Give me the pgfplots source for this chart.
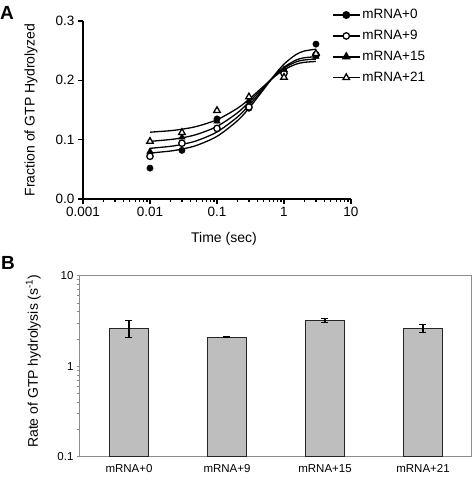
\documentclass[border=0pt]{standalone}
\usepackage{pgfplots}
\pgfplotsset{compat=1.18}
\usepackage{fontspec}
\setmainfont{Liberation Sans}
\definecolor{bargray}{HTML}{BEBEBE}
\definecolor{framegray}{HTML}{8C8C8C}
\begin{document}
\begin{tikzpicture}
\useasboundingbox (0pt,0pt) rectangle (474pt,483pt);
\node[font=\fontsize{19}{19}\selectfont\bfseries, anchor=center] at (7pt,470pt) {A};
\node[font=\fontsize{19}{19}\selectfont\bfseries, anchor=center] at (8pt,220pt) {B};
% ---------------- Panel A ----------------
\begin{axis}[
  at={(83pt,284pt)}, anchor=south west,
  scale only axis, width=268pt, height=178pt,
  xmode=log, xmin=0.001, xmax=10, ymin=0, ymax=0.3,
  axis x line*=bottom, axis y line*=left,
  axis line style={line width=1.5pt, -},
  every tick/.style={black, line width=1.2pt},
  tick align=outside, major tick length=5pt, minor tick length=3pt,
  xtick={0.001,0.01,0.1,1,10}, xticklabels={0.001,0.01,0.1,1,10},
  ytick={0,0.1,0.2,0.3}, yticklabels={0.0,0.1,0.2,0.3},
  minor y tick num=0,
  tick label style={font=\fontsize{13.5}{14}\selectfont},
  /pgf/number format/assume math mode=true,
  xlabel={Time (sec)}, ylabel={Fraction of GTP Hydrolyzed},
  label style={font=\fontsize{14}{15}\selectfont},
  xlabel style={at={(axis description cs:0.526,-0.225)}, anchor=center},
  ylabel style={at={(axis description cs:-0.194,0.5)}, anchor=center},
  clip=false,
  legend image code/.code={\draw[mark repeat=2,mark phase=2,#1] plot coordinates {(0cm,0cm) (0.47cm,0cm) (0.94cm,0cm)};},
  legend style={at={(axis cs:5.2,0.323)}, anchor=north west, draw=none, fill=none,
    font=\fontsize{13.5}{14}\selectfont, row sep=6pt, inner sep=0pt,
    /tikz/every even column/.append style={column sep=2pt}},
  legend cell align=left,
]
% fitted curves
\addplot[black, line width=1.3pt, smooth, forget plot] coordinates {
(0.01,0.0774)(0.02,0.0808)(0.03,0.0841)(0.05,0.0905)(0.1,0.1056)(0.2,0.1315)(0.3,0.1530)(0.5,0.1851)(0.7,0.2070)(1,0.2273)(1.5,0.2432)(2,0.2493)(3,0.2525)};
\addplot[black, line width=1.3pt, smooth, forget plot] coordinates {
(0.01,0.0854)(0.02,0.0887)(0.03,0.0920)(0.05,0.0983)(0.1,0.1130)(0.2,0.1378)(0.3,0.1578)(0.5,0.1869)(0.7,0.2057)(1,0.2221)(1.5,0.2340)(2,0.2380)(3,0.2398)};
\addplot[black, line width=1.3pt, smooth, forget plot] coordinates {
(0.01,0.0971)(0.02,0.1002)(0.03,0.1031)(0.05,0.1089)(0.1,0.1223)(0.2,0.1449)(0.3,0.1631)(0.5,0.1892)(0.7,0.2060)(1,0.2206)(1.5,0.2309)(2,0.2343)(3,0.2358)};
\addplot[black, line width=1.3pt, smooth, forget plot] coordinates {
(0.01,0.1126)(0.02,0.1151)(0.03,0.1176)(0.05,0.1224)(0.1,0.1336)(0.2,0.1526)(0.3,0.1680)(0.5,0.1903)(0.7,0.2049)(1,0.2178)(1.5,0.2271)(2,0.2303)(3,0.2318)};
% data points
\addplot[only marks, mark=*, mark size=3.2pt, mark options={black, fill=black}, forget plot] coordinates {
(0.01,0.052)(0.03,0.082)(0.1,0.135)(0.3,0.153)(1,0.215)(3,0.261)};
\addplot[only marks, mark=*, mark size=3.2pt, mark options={black, fill=white, line width=1.3pt}, forget plot] coordinates {
(0.01,0.072)(0.03,0.094)(0.1,0.119)(0.3,0.155)(1,0.212)(3,0.243)};
\addplot[only marks, mark=triangle*, mark size=3.8pt, mark options={black, fill=black}, forget plot] coordinates {
(0.01,0.080)(0.03,0.104)(0.1,0.131)(0.3,0.165)(1,0.218)(3,0.240)};
\addplot[only marks, mark=triangle*, mark size=3.8pt, mark options={black, fill=white, line width=1.3pt}, forget plot] coordinates {
(0.01,0.097)(0.03,0.112)(0.1,0.149)(0.3,0.172)(1,0.205)(3,0.245)};
% legend
\addlegendimage{black, line width=1.5pt, mark=*, mark size=3.2pt, mark options={black, fill=black, solid}}
\addlegendentry{mRNA+0}
\addlegendimage{black, line width=1.5pt, mark=*, mark size=3.2pt, mark options={black, fill=white, line width=1.3pt, solid}}
\addlegendentry{mRNA+9}
\addlegendimage{black, line width=1.5pt, mark=triangle*, mark size=3.8pt, mark options={black, fill=black, solid}}
\addlegendentry{mRNA+15}
\addlegendimage{black, line width=1.5pt, mark=triangle*, mark size=3.8pt, mark options={black, fill=white, line width=1.3pt, solid}}
\addlegendentry{mRNA+21}
\end{axis}
% ---------------- Panel B ----------------
\begin{axis}[
  at={(80pt,26.3pt)}, anchor=south west,
  scale only axis, width=392pt, height=181pt,
  ymode=log, ymin=0.1, ymax=10, log origin=infty,
  xmin=-0.5, xmax=3.5,
  axis line style={framegray, line width=1pt},
  xtick={0,1,2,3}, xticklabels={mRNA+0,mRNA+9,mRNA+15,mRNA+21},
  xtick style={draw=none},
  ytick={0.1,1,10}, yticklabels={0.1,1,10},
  minor ytick={},
  ytick pos=left, tick align=outside, major tick length=3pt,
  every tick/.style={framegray, line width=0.8pt},
  tick label style={font=\fontsize{11.5}{12}\selectfont},
  /pgf/number format/assume math mode=true,
  ylabel={Rate of GTP hydrolysis (s\textsuperscript{-1})},
  ylabel style={font=\fontsize{14}{15}\selectfont, at={(axis description cs:-0.119,0.528)}, anchor=center},
  xticklabel style={yshift=-1pt},
]
\addplot[ybar, bar width=39pt, fill=bargray, draw=black!85, line width=1.4pt,
  error bars/.cd, y dir=both, y explicit,
  error bar style={black, line width=1.1pt}, error mark options={rotate=90, mark size=3.5pt, black, line width=1.1pt}]
  coordinates {
  (0,2.62) +- (0,0.55)
  (1,2.09) +- (0,0.03)
  (2,3.21) +- (0,0.17)
  (3,2.62) +- (0,0.27)
};
\end{axis}
\end{tikzpicture}
\end{document}
